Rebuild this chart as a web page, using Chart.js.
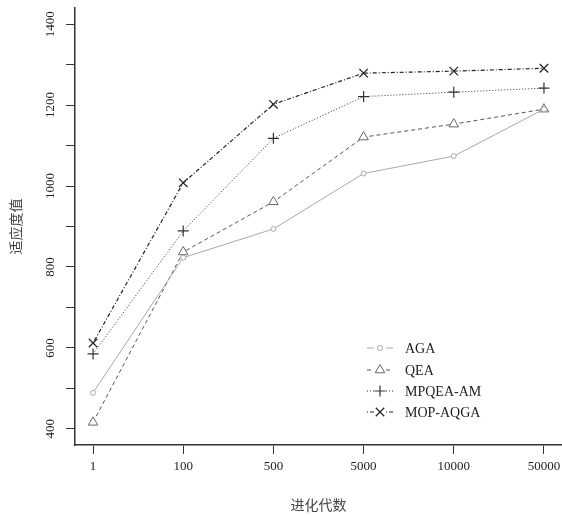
<!DOCTYPE html>
<html lang="zh">
<head>
    <meta charset="UTF-8">
    <title>适应度值 vs 进化代数</title>
    <script src="https://cdn.jsdelivr.net/npm/chart.js"></script>
    <style>
        body { margin: 0; background: #fff; }
    </style>
</head>
<body>
    <canvas id="fitChart" width="562" height="516"></canvas>

    <script>
        // data
        const xCategories = ['1', '100', '500', '5000', '10000', '50000'];
        const agaValues   = [489, 823, 894, 1031, 1074, 1190];
        const qeaValues   = [416, 837, 961, 1121, 1153, 1190];
        const mpqeaValues = [585, 889, 1118, 1221, 1232, 1242];
        const mopValues   = [612, 1008, 1202, 1279, 1284, 1291];
        const yTicks      = [400, 500, 600, 700, 800, 900, 1000, 1100, 1200, 1300, 1400];
        const yTickLabels = [400, 600, 800, 1000, 1200, 1400];

        const serif = '"Liberation Serif", "DejaVu Serif", serif';
        const cjk = '"Noto Sans CJK SC", sans-serif';

        const toPoints = vals => vals.map((v, i) => ({ x: i + 1, y: v }));

        // rotated y tick labels + R-style legend inside the plot
        const extras = {
            id: 'extras',
            afterDraw(chart) {
                const ctx = chart.ctx;
                const y = chart.scales.y;
                ctx.save();
                ctx.fillStyle = '#222';
                ctx.font = '13px ' + serif;
                ctx.textAlign = 'center';
                ctx.textBaseline = 'middle';
                yTickLabels.forEach(v => {
                    ctx.save();
                    ctx.translate(51, y.getPixelForValue(v));
                    ctx.rotate(-Math.PI / 2);
                    ctx.fillText(String(v), 0, 0);
                    ctx.restore();
                });
                ctx.restore();

                // legend
                const rowY = [348, 370, 391, 412];
                chart.data.datasets.forEach((ds, i) => {
                    const ly = rowY[i];
                    ctx.save();
                    ctx.strokeStyle = ds.borderColor;
                    ctx.lineWidth = ds.borderWidth;
                    ctx.setLineDash(ds.borderDash || []);
                    ctx.beginPath();
                    ctx.moveTo(367, ly);
                    ctx.lineTo(374, ly);
                    ctx.moveTo(386, ly);
                    ctx.lineTo(393, ly);
                    ctx.stroke();
                    ctx.setLineDash([]);
                    ctx.strokeStyle = ds.pointBorderColor;
                    ctx.fillStyle = ds.pointBackgroundColor;
                    ctx.lineWidth = ds.pointBorderWidth;
                    Chart.helpers.drawPoint(ctx, {
                        pointStyle: ds.pointStyle,
                        radius: ds.pointRadius,
                        rotation: 0,
                        borderWidth: ds.pointBorderWidth
                    }, 380, ly);
                    ctx.fillStyle = '#222';
                    ctx.font = '14px ' + serif;
                    ctx.textAlign = 'left';
                    ctx.textBaseline = 'middle';
                    ctx.fillText(ds.label, 405, ly + 1);
                    ctx.restore();
                });
            }
        };

        new Chart(document.getElementById('fitChart'), {
            type: 'line',
            data: {
                datasets: [
                    {
                        label: 'AGA',
                        data: toPoints(agaValues),
                        borderColor: '#a8a8a8',
                        borderWidth: 1,
                        pointStyle: 'circle',
                        pointRadius: 2.5,
                        pointBorderColor: '#a8a8a8',
                        pointBackgroundColor: '#fff',
                        pointBorderWidth: 1
                    },
                    {
                        label: 'QEA',
                        data: toPoints(qeaValues),
                        borderColor: '#555',
                        borderWidth: 1,
                        borderDash: [4, 3],
                        pointStyle: 'triangle',
                        pointRadius: 5.5,
                        pointBorderColor: '#666',
                        pointBackgroundColor: '#fff',
                        pointBorderWidth: 1
                    },
                    {
                        label: 'MPQEA-AM',
                        data: toPoints(mpqeaValues),
                        borderColor: '#333',
                        borderWidth: 1,
                        borderDash: [1, 2],
                        pointStyle: 'cross',
                        pointRadius: 5.5,
                        pointBorderColor: '#333',
                        pointBackgroundColor: '#fff',
                        pointBorderWidth: 1.2
                    },
                    {
                        label: 'MOP-AQGA',
                        data: toPoints(mopValues),
                        borderColor: '#222',
                        borderWidth: 1.2,
                        borderDash: [1, 2, 4, 2],
                        pointStyle: 'crossRot',
                        pointRadius: 6,
                        pointBorderColor: '#222',
                        pointBackgroundColor: '#fff',
                        pointBorderWidth: 1.2
                    }
                ]
            },
            options: {
                responsive: false,
                animation: false,
                devicePixelRatio: 1,
                layout: { autoPadding: false, padding: { top: 8, right: 0, left: 0, bottom: 0 } },
                plugins: {
                    legend: { display: false },
                    tooltip: { enabled: false }
                },
                elements: { line: { tension: 0 } },
                scales: {
                    x: {
                        type: 'linear',
                        min: 0.8,
                        max: 6.2,
                        afterBuildTicks: s => { s.ticks = xCategories.map((c, i) => ({ value: i + 1 })); },
                        afterFit: s => { s.height = 71; s.paddingLeft = 0; s.paddingRight = 0; },
                        border: { display: true, color: '#333', width: 1.5 },
                        grid: { drawOnChartArea: false, drawTicks: true, tickLength: 9, color: '#333' },
                        ticks: {
                            padding: 5,
                            color: '#222',
                            font: { family: serif, size: 13 },
                            callback: v => xCategories[v - 1]
                        },
                        title: {
                            display: true,
                            text: '进化代数',
                            color: '#444',
                            font: { family: cjk, size: 14 },
                            padding: { top: 0, bottom: 3 }
                        }
                    },
                    y: {
                        type: 'linear',
                        min: 360,
                        max: 1440,
                        afterBuildTicks: s => { s.ticks = yTicks.map(v => ({ value: v })); },
                        afterFit: s => { s.width = 75; s.paddingTop = 0; s.paddingBottom = 0; },
                        border: { display: true, color: '#333', width: 1.5 },
                        grid: { drawOnChartArea: false, drawTicks: true, tickLength: 9, color: '#333' },
                        ticks: { display: false },
                        title: {
                            display: true,
                            text: '适应度值',
                            color: '#444',
                            font: { family: cjk, size: 14 },
                            padding: { top: 7, bottom: 0 }
                        }
                    }
                }
            },
            plugins: [extras]
        });
    </script>
</body>
</html>
